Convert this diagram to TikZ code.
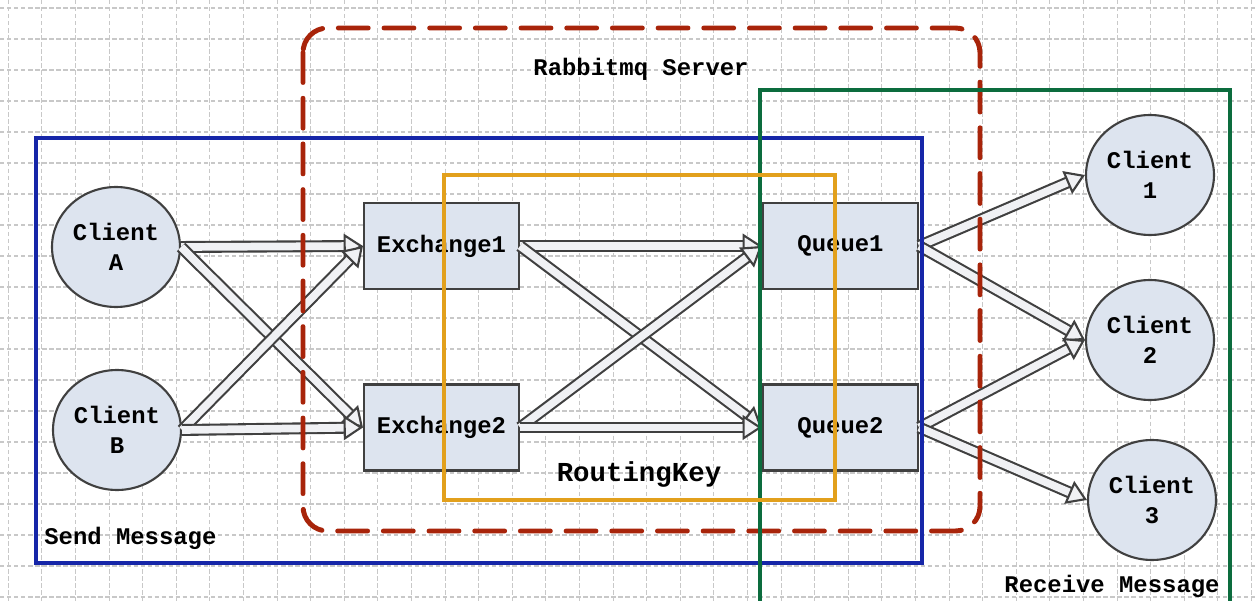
\documentclass[tikz,border=0pt]{standalone}
\usepackage{fontspec}
\setmonofont{Liberation Mono}
\usetikzlibrary{shapes,arrows.meta}
\definecolor{nodefill}{RGB}{221,228,239}
\definecolor{sendblue}{RGB}{22,38,168}
\definecolor{serverred}{RGB}{168,36,10}
\definecolor{recvgreen}{RGB}{12,108,62}
\definecolor{keyorange}{RGB}{226,160,28}
\definecolor{gridgray}{RGB}{200,200,200}
\definecolor{flowfill}{RGB}{240,241,244}

\begin{document}
\begin{tikzpicture}[x=0.02cm, y=-0.02cm,
    gridline/.style={gridgray, dash pattern=on 2.5pt off 1.5pt, line width=0.6pt},
    client/.style={ellipse, draw=black!75, line width=1.2pt, fill=nodefill, minimum width=2.56cm, minimum height=2.4cm, align=center, inner sep=0pt, font=\ttfamily\bfseries\fontsize{13.6}{17}\selectfont},
    broker/.style={rectangle, draw=black!75, line width=1.2pt, fill=nodefill, minimum width=3.1cm, minimum height=1.72cm, font=\ttfamily\bfseries\fontsize{13.6}{17}\selectfont},
    flow/.style={draw=black!75, line width=1.2pt, double=flowfill, double distance=4.4pt, -{Triangle[open, fill=flowfill, length=11pt, width=14pt, line width=1.2pt]}},
    label/.style={font=\ttfamily\bfseries\fontsize{13.6}{17}\selectfont, inner sep=0pt}]
    \clip (0,0) rectangle (1255,601);
    \fill[white] (0,0) rectangle (1255,601);
    % background grid
    \foreach \gx in {0,...,37}
        \draw[gridline] ({8.3+33.6*\gx},0) -- ({8.3+33.6*\gx},601);
    \foreach \gy in {0,...,19}
        \draw[gridline] (0,{8+31*\gy}) -- (1255,{8+31*\gy});
    % senders
    \node[client] at (116,247) (clientA) {Client\\A};
    \node[client] at (117,430) (clientB) {Client\\B};
    % server
    \node[broker] at (441.5,246) (exchange1) {Exchange1};
    \node[broker] at (441.5,427.5) (exchange2) {Exchange2};
    \node[broker] at (840.5,246) (queue1) {Queue1};
    \node[broker] at (840.5,427.5) (queue2) {Queue2};
    % receivers
    \node[client] at (1150,175) (client1) {Client\\1};
    \node[client] at (1150,340) (client2) {Client\\2};
    \node[client] at (1152,500) (client3) {Client\\3};
    \draw[flow] (clientA.east) -- (exchange1.west);
    \draw[flow] (clientA.east) -- (exchange2.west);
    \draw[flow] (clientB.east) -- (exchange1.west);
    \draw[flow] (clientB.east) -- (exchange2.west);
    \draw[flow] (exchange1.east) -- (queue1.west);
    \draw[flow] (exchange1.east) -- (queue2.west);
    \draw[flow] (exchange2.east) -- (queue1.west);
    \draw[flow] (exchange2.east) -- (queue2.west);
    \draw[flow] (queue1.east) -- (client1.west);
    \draw[flow] (queue1.east) -- (client2.west);
    \draw[flow] (queue2.east) -- (client2.west);
    \draw[flow] (queue2.east) -- (client3.west);
    % frames
    \draw[sendblue, line width=2.3pt] (36,138) rectangle (922,563);
    \draw[serverred, line width=2.8pt, line cap=round, dash pattern=on 17pt off 9pt, rounded corners=14pt] (303,28) rectangle (980,531);
    \draw[recvgreen, line width=2.3pt] (760,640) -- (760,90) -- (1230,90) -- (1230,640);
    \draw[keyorange, line width=1.8pt] (444,175) rectangle (835,500);
    % labels
    \node[label] at (641,69) (server) {Rabbitmq Server};
    \node[label, font=\ttfamily\bfseries\fontsize{15.6}{19}\selectfont] at (639,474) (routing) {RoutingKey};
    \node[label, anchor=west] at (44,538) (send) {Send Message};
    \node[label] at (1112,586) (receive) {Receive Message};
\end{tikzpicture}
\end{document}
